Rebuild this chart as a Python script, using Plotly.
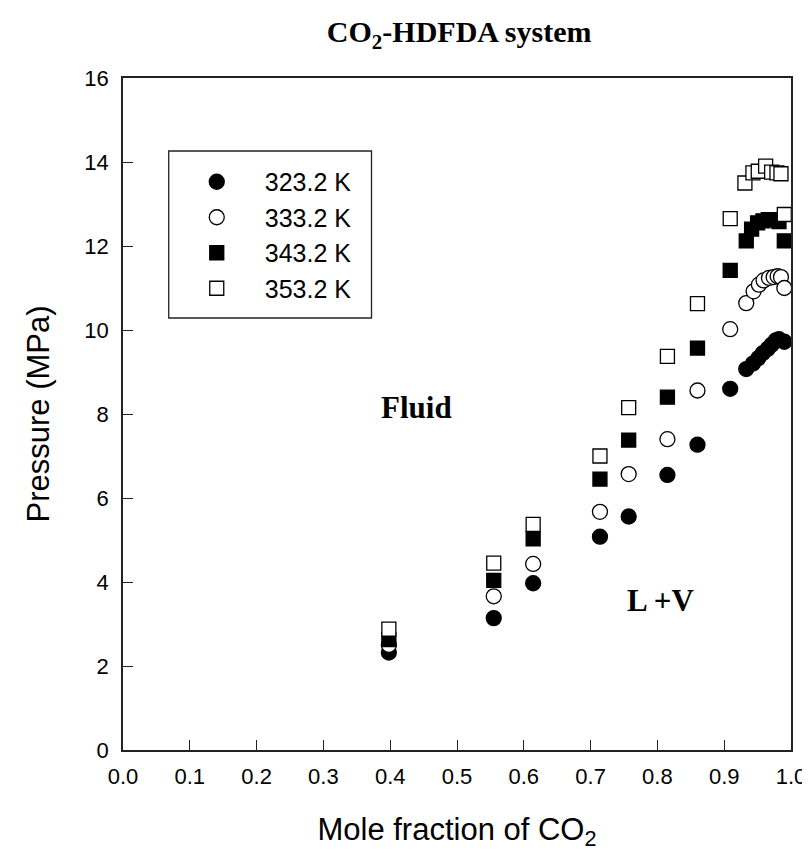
import plotly.graph_objects as go

# ---- data ----
x_323 = [0.398, 0.555, 0.614, 0.714, 0.757, 0.815, 0.860, 0.909, 0.933, 0.943, 0.951, 0.958, 0.965, 0.971, 0.977, 0.982, 0.990]
y_323 = [2.32, 3.14, 3.97, 5.08, 5.56, 6.55, 7.27, 8.60, 9.07, 9.20, 9.33, 9.45, 9.55, 9.65, 9.75, 9.78, 9.72]

x_333 = [0.398, 0.555, 0.614, 0.714, 0.757, 0.815, 0.860, 0.909, 0.933, 0.944, 0.952, 0.959, 0.967, 0.974, 0.980, 0.985, 0.990]
y_333 = [2.50, 3.66, 4.43, 5.67, 6.57, 7.40, 8.56, 10.02, 10.64, 10.92, 11.08, 11.18, 11.24, 11.26, 11.28, 11.26, 11.00]

x_343 = [0.398, 0.555, 0.614, 0.714, 0.757, 0.815, 0.860, 0.909, 0.933, 0.941, 0.950, 0.958, 0.966, 0.974, 0.982, 0.990]
y_343 = [2.63, 4.04, 5.03, 6.45, 7.38, 8.40, 9.57, 11.42, 12.12, 12.40, 12.55, 12.60, 12.63, 12.63, 12.58, 12.12]

x_353 = [0.398, 0.555, 0.614, 0.714, 0.757, 0.815, 0.860, 0.909, 0.931, 0.943, 0.951, 0.962, 0.971, 0.979, 0.985, 0.990]
y_353 = [2.88, 4.45, 5.37, 7.00, 8.15, 9.37, 10.63, 12.65, 13.50, 13.74, 13.78, 13.90, 13.76, 13.74, 13.72, 12.75]

series_names = ["323.2 K", "333.2 K", "343.2 K", "353.2 K"]
x_ticks = [0.0, 0.1, 0.2, 0.3, 0.4, 0.5, 0.6, 0.7, 0.8, 0.9, 1.0]
y_ticks = [0, 2, 4, 6, 8, 10, 12, 14, 16]

SANS = "Arial, 'Liberation Sans', sans-serif"
SERIF = "'Times New Roman', 'Liberation Serif', serif"

styles = [
    dict(symbol="circle", size=15, color="black", line=dict(color="black", width=1.3)),
    dict(symbol="circle", size=15, color="white", line=dict(color="black", width=1.3)),
    dict(symbol="square", size=14, color="black", line=dict(color="black", width=1.3)),
    dict(symbol="square", size=14, color="white", line=dict(color="black", width=1.3)),
]

fig = go.Figure()
for name, xs, ys, st in zip(series_names,
                            [x_323, x_333, x_343, x_353],
                            [y_323, y_333, y_343, y_353],
                            styles):
    fig.add_trace(go.Scatter(x=xs, y=ys, mode="markers", name=name,
                             marker=st, cliponaxis=False))

fig.update_layout(
    width=810, height=850,
    margin=dict(l=115, r=23, t=70, b=108),
    paper_bgcolor="white", plot_bgcolor="white",
    showlegend=True,
    title=dict(text="<b>CO<sub>2</sub>-HDFDA system</b>", x=0.557, xanchor="center",
               y=0.972, yanchor="middle", font=dict(family=SERIF, size=30, color="black")),
    legend=dict(x=0.0685, y=0.8795, xanchor="left", yanchor="top",
                borderwidth=0, bgcolor="rgba(0,0,0,0)",
                font=dict(family=SANS, size=25, color="black"),
                itemwidth=86, tracegroupgap=0),
)

# legend frame
fig.add_shape(type="rect", xref="paper", yref="paper",
              x0=46 / 672, x1=250 / 672, y0=1 - 240 / 672, y1=1 - 73 / 672,
              line=dict(color="#222", width=1.3), fillcolor="rgba(0,0,0,0)", layer="below")

fig.update_xaxes(range=[0, 1], tickvals=x_ticks, tickformat=".1f",
                 ticks="inside", ticklen=10, tickwidth=1.2, tickcolor="#222",
                 showline=True, linecolor="#222", linewidth=1.5, mirror=True,
                 showgrid=False, zeroline=False, ticklabelstandoff=6,
                 tickfont=dict(family=SANS, size=22, color="black"),
                 title=dict(text="Mole fraction of CO<sub>2</sub>", standoff=30,
                            font=dict(family=SANS, size=31, color="black")))
fig.update_yaxes(range=[0, 16], tickvals=y_ticks,
                 ticks="inside", ticklen=10, tickwidth=1.2, tickcolor="#222",
                 showline=True, linecolor="#222", linewidth=1.5, mirror=True,
                 showgrid=False, zeroline=False, ticklabelstandoff=8,
                 tickfont=dict(family=SANS, size=22, color="black"),
                 title=dict(text="Pressure (MPa)", standoff=26,
                            font=dict(family=SANS, size=31, color="black")))

fig.add_annotation(x=0.44, y=8.15, xref="x", yref="y", text="<b>Fluid</b>",
                   showarrow=False, font=dict(family=SERIF, size=31, color="black"))
fig.add_annotation(x=0.805, y=3.55, xref="x", yref="y", text="<b>L +V</b>",
                   showarrow=False, font=dict(family=SERIF, size=31, color="black"))

fig.write_html("out.html")
